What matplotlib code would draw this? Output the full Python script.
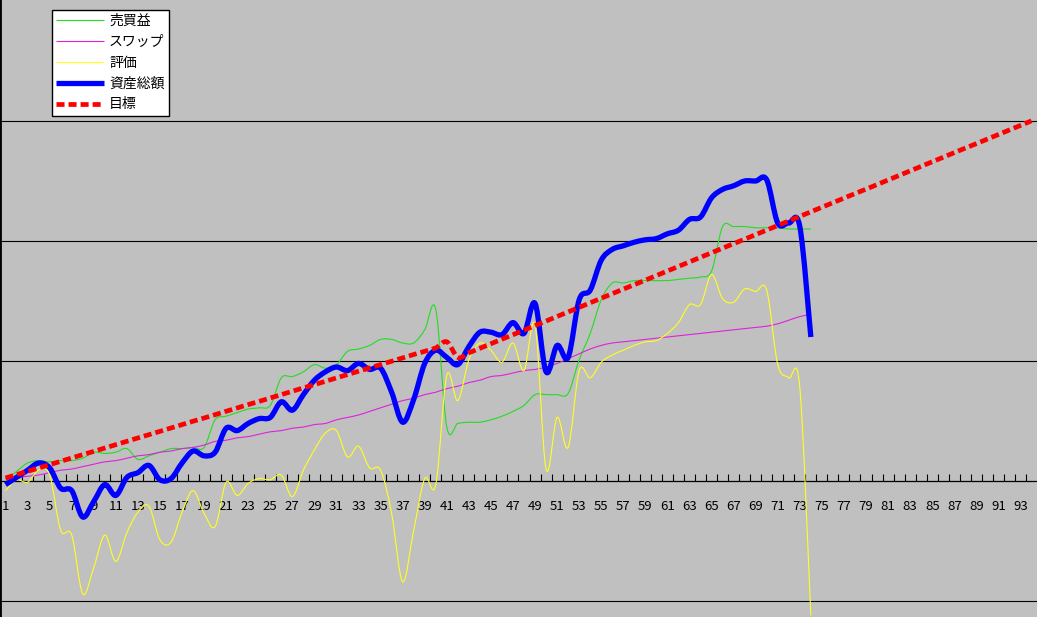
import numpy as np
import matplotlib.pyplot as plt
from matplotlib.path import Path
from matplotlib.patches import PathPatch
from matplotlib.lines import Line2D

plt.rcParams['font.family'] = ['Noto Sans CJK JP', 'DejaVu Sans']

# categories 1..94 on the x axis, data series run to 74
cats = np.arange(1, 95)

baibai = [0, 8, 15, 17, 16, 17, 17, 19, 24, 23, 24, 27, 18, 21, 24, 27, 27, 28, 28, 51,
          54, 57, 60, 61, 63, 86, 87, 91, 97, 94, 97, 108, 110, 113, 118, 118, 115, 115, 126, 143,
          45, 48, 49, 49, 51, 54, 58, 63, 72, 72, 72, 73, 101, 123, 151, 165, 165, 167, 167, 167,
          167, 168, 169, 170, 175, 212, 212, 212, 211, 211, 211, 210, 210, 210]

swap = [2, 3, 4, 5, 7, 9, 10, 12, 14, 16, 17, 19, 21, 22, 24, 25, 27, 28, 30, 33,
        34, 36, 37, 39, 41, 42, 44, 45, 47, 48, 51, 53, 55, 58, 61, 64, 67, 69, 72, 74,
        77, 79, 82, 84, 87, 88, 90, 92, 93, 95, 98, 102, 106, 110, 113, 115, 116, 117, 118, 119,
        120, 121, 122, 123, 124, 125, 126, 127, 128, 129, 131, 134, 137, 139]

hyouka = [-8, 1, -1, 9, 5, -41, -45, -94, -72, -45, -67, -43, -26, -21, -49, -51, -26, -8, -27, -38,
          -1, -12, -2, 2, 1, 5, -13, 9, 26, 40, 42, 20, 29, 11, 9, -27, -84, -41, 2, -3,
          88, 67, 101, 115, 109, 99, 115, 92, 130, 10, 53, 28, 92, 86, 99, 105, 109, 113, 116, 117,
          123, 132, 147, 147, 172, 152, 149, 160, 158, 159, 97, 86, 78, -112]

shisan = [-3, 3, 9, 15, 11, -6, -8, -30, -17, -3, -12, 3, 7, 13, 1, 2, 15, 25, 21, 24,
          44, 42, 48, 52, 53, 66, 59, 72, 84, 91, 95, 92, 98, 93, 94, 74, 49, 68, 98, 109,
          103, 97, 112, 124, 124, 122, 132, 123, 148, 91, 113, 103, 151, 159, 184, 193, 196, 199, 201, 202,
          206, 209, 218, 220, 236, 243, 246, 250, 250, 251, 215, 215, 212, 120]

mokuhyou = [2.5, 5.3, 8.1, 10.8, 13.6, 16.4, 19.2, 22.0, 24.7, 27.5,
            30.3, 33.1, 35.9, 38.6, 41.4, 44.2, 47.0, 49.8, 52.5, 55.3,
            58.1, 60.9, 63.7, 66.4, 69.2, 72.0, 74.8, 77.6, 80.3, 83.1,
            85.9, 88.7, 91.5, 94.2, 97.0, 99.8, 102.6, 105.4, 108.1, 110.9,
            116.0, 103.0, 106.8, 110.6, 114.4, 118.2, 121.9, 125.7, 129.5, 133.3,
            137.1, 140.9, 144.7, 148.5, 152.3, 156.1, 159.9, 163.6, 167.4, 171.2,
            175.0, 178.8, 182.6, 186.4, 190.2, 194.0, 197.8, 201.5, 205.3, 209.1,
            212.9, 216.7, 220.5, 224.3, 228.1, 231.9, 235.7, 239.5, 243.2, 247.0,
            250.8, 254.6, 258.4, 262.2, 266.0, 269.8, 273.6, 277.4, 281.1, 284.9,
            288.7, 292.5, 296.3, 300.1]


def smooth_path(xs, ys):
    # bezier segments through the data points, like excel's smoothed line
    pts = np.column_stack([xs, ys]).astype(float)
    n = len(pts)
    verts = [pts[0]]
    codes = [Path.MOVETO]
    for i in range(n - 1):
        p0 = pts[i - 1] if i > 0 else pts[i]
        p1 = pts[i]
        p2 = pts[i + 1]
        p3 = pts[i + 2] if i + 2 < n else pts[i + 1]
        verts += [p1 + (p2 - p0) / 6, p2 - (p3 - p1) / 6, p2]
        codes += [Path.CURVE4] * 3
    return Path(verts, codes)


fig = plt.figure(figsize=(10.37, 6.17), dpi=100)
fig.patch.set_facecolor('#C0C0C0')
ax = fig.add_axes([0, 0, 1, 1])
ax.set_facecolor('#C0C0C0')

for g in [-100, 100, 200, 300]:
    ax.axhline(g, color='black', lw=0.8, zorder=1)

n = len(shisan)
series = [
    (cats[:n], baibai, '売買益', dict(color='#22DD22', lw=0.8, ls='-')),
    (cats[:n], swap, 'スワップ', dict(color='#DD22DD', lw=0.8, ls='-')),
    (cats[:n], hyouka, '評価', dict(color='#FFFF20', lw=0.8, ls='-')),
    (cats[:n], shisan, '資産総額', dict(color='#0000FF', lw=3.8, ls='-')),
    (cats, mokuhyou, '目標', dict(color='#FF0000', lw=3.4, ls=(0, (1.7, 0.85)))),
]

handles = []
for z, (xs, ys, name, st) in enumerate(series):
    patch = PathPatch(smooth_path(xs, ys), fill=False, edgecolor=st['color'],
                      linewidth=st['lw'], linestyle=st['ls'], zorder=3 + z,
                      joinstyle='round', capstyle='butt')
    ax.add_patch(patch)
    handles.append(Line2D([], [], color=st['color'], lw=st['lw'], ls=st['ls'],
                          solid_capstyle='butt', dash_capstyle='butt'))

ax.set_xlim(0.5, 94.5)
ax.set_ylim(-113.3, 400.8)

ax.spines['bottom'].set_position(('data', 0))
ax.spines['bottom'].set_linewidth(0.9)
ax.spines['left'].set_linewidth(2)
ax.spines['top'].set_visible(False)
ax.spines['right'].set_visible(False)
ax.set_yticks([])

ax.set_xticks(cats[::2])
ax.set_xticklabels([str(c) for c in cats[::2]])
ax.set_xticks(np.arange(1.5, 94.5, 1), minor=True)
ax.tick_params(axis='x', which='major', length=0, pad=13.5, labelsize=9.5)
ax.tick_params(axis='x', which='minor', direction='in', length=5, width=0.8)

leg = ax.legend(handles, [s[2] for s in series], loc='upper left',
                bbox_to_anchor=(52 / 1037, 1 - 10 / 617),
                fontsize=10, frameon=True, fancybox=False, framealpha=1,
                edgecolor='black', facecolor='white', borderaxespad=0,
                borderpad=0.3, handlelength=3.45, handletextpad=0.36, labelspacing=0.49)
leg.get_frame().set_linewidth(1)
leg.set_zorder(10)

fig.savefig('out.png', dpi=100, facecolor=fig.get_facecolor())
